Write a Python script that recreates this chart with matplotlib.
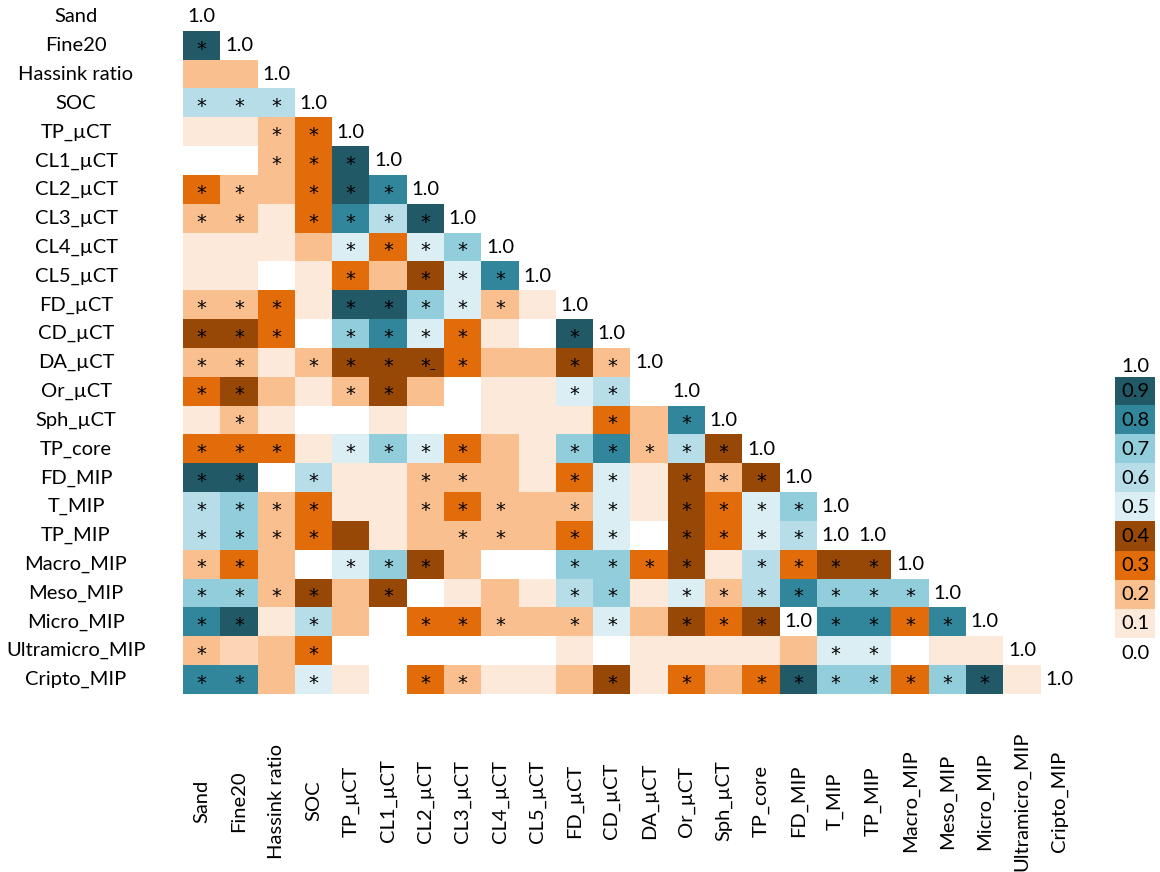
import numpy as np
import matplotlib
matplotlib.use('Agg')
from matplotlib import pyplot as plt
from matplotlib.colors import ListedColormap
from matplotlib.transforms import blended_transform_factory

variables = ['Sand', 'Fine20', 'Hassink ratio', 'SOC', 'TP_µCT', 'CL1_µCT', 'CL2_µCT',
             'CL3_µCT', 'CL4_µCT', 'CL5_µCT', 'FD_µCT', 'CD_µCT', 'DA_µCT', 'Or_µCT',
             'Sph_µCT', 'TP_core', 'FD_MIP', 'T_MIP', 'TP_MIP', 'Macro_MIP', 'Meso_MIP',
             'Micro_MIP', 'Ultramicro_MIP', 'Cripto_MIP']

# class of |r| for each cell left of the diagonal, row by row
# '0'..'9' -> 0.0-0.1 ... 0.9-1.0, 'h' = in-between orange, 'n' = blank cell printed 1.0
levels = [
    "",
    "9",
    "22",
    "666",
    "1123",
    "00239",
    "322398",
    "2213869",
    "11125357",
    "110132458",
    "2231997521",
    "44307853109",
    "221244432242",
    "3421242011560",
    "12100100111328",
    "333157532178264",
    "9906112221351424",
    "67231123222514357",
    "67234122223504356n",
    "2320574200773416344",
    "77242401216715268777",
    "8916203322252434n8838",
    "2h23000000101111255011",
    "88251032112413239773791",
]

# significance marks, same layout ('*' significant, 'u' printed as "*_")
signif = [
    "",
    "*",
    "..",
    "***",
    "..**",
    "..***",
    "**.***",
    "**.****",
    "....****",
    "....*.***",
    "***.*****.",
    "***.****..*",
    "**.***u*..**",
    "**..**....**.",
    ".*.........*.*",
    "***.****..*****",
    "**.*..**..**.***",
    "****..***.**.****",
    "****...**.**.****.",
    "**..***...****.****",
    "****.*....**.*******",
    "**.*..***.**.***.****",
    "*..*.............**...",
    "**.*..**...*.*.*******.",
]

class_colors = ['#ffffff', '#fde9d9', '#fabf8f', '#e26b0a', '#974706',
                '#daeef3', '#b7dee8', '#92cddc', '#31869b', '#215967', '#fcd5b4']
cbar_labels = ['0.9', '0.8', '0.7', '0.6', '0.5', '0.4', '0.3', '0.2', '0.1']
cbar_classes = [9, 8, 7, 6, 5, 4, 3, 2, 1]

plt.rcParams['font.family'] = ['Lato', 'DejaVu Sans']
fs = 14.5

n = len(variables)
for i in range(n):
    assert len(levels[i]) == i and len(signif[i]) == i, i

codes = {str(k): k for k in range(10)}
codes.update({'h': 10, 'n': 0})
grid = np.full((n, n), np.nan)
for i, row in enumerate(levels):
    for j, c in enumerate(row):
        grid[i, j] = codes[c]

cmap = ListedColormap(class_colors)

fig = plt.figure(figsize=(11.6, 8.72), dpi=100)
ax = fig.add_axes([183 / 1160, 1 - 694 / 872, 895 / 1160, 691.5 / 872])
ax.imshow(grid, cmap=cmap, vmin=-0.5, vmax=10.5, aspect='auto', interpolation='nearest')
ax.set_xlim(-0.5, n - 0.5)
ax.set_ylim(n - 0.5, -0.5)
ax.axis('off')

for i in range(n):
    ax.text(i, i, '1.0', ha='center', va='center', fontsize=fs, color='black')
    for j in range(i):
        if levels[i][j] == 'n':
            ax.text(j, i, '1.0', ha='center', va='center', fontsize=fs, color='black')
        s = signif[i][j]
        if s in '*u':
            ax.text(j, i + 0.12, '*', ha='center', va='center', fontsize=14,
                    family='DejaVu Sans', color='black')
        if s == 'u':
            ax.text(j + 0.1, i + 0.05, '_', ha='left', va='center', fontsize=9,
                    color='black')

row_tr = blended_transform_factory(ax.transAxes, ax.transData)
col_tr = blended_transform_factory(ax.transData, ax.transAxes)
for k, name in enumerate(variables):
    ax.text((76 - 183) / 895, k, name, transform=row_tr, ha='center', va='center',
            fontsize=fs, color='black')
    ax.text(k, (694 - 801) / 691.5, name, transform=col_tr, ha='center', va='center',
            rotation=90, fontsize=fs, color='black')

cax = fig.add_axes([1115 / 1160, 1 - 637.7 / 872, 40 / 1160, 261 / 872])
cax.imshow(np.array(cbar_classes).reshape(-1, 1), cmap=cmap, vmin=-0.5, vmax=10.5,
           aspect='auto', interpolation='nearest')
cax.axis('off')
for k, lab in enumerate(cbar_labels):
    cax.text(0, k, lab, ha='center', va='center', fontsize=fs, color='black')
cax.text(0, -0.85, '1.0', ha='center', va='center', fontsize=fs, color='black')
cax.text(0, len(cbar_labels) - 0.5 + 0.53, '0.0', ha='center', va='center', fontsize=fs,
         color='black')

fig.savefig('out.png', dpi=100)
